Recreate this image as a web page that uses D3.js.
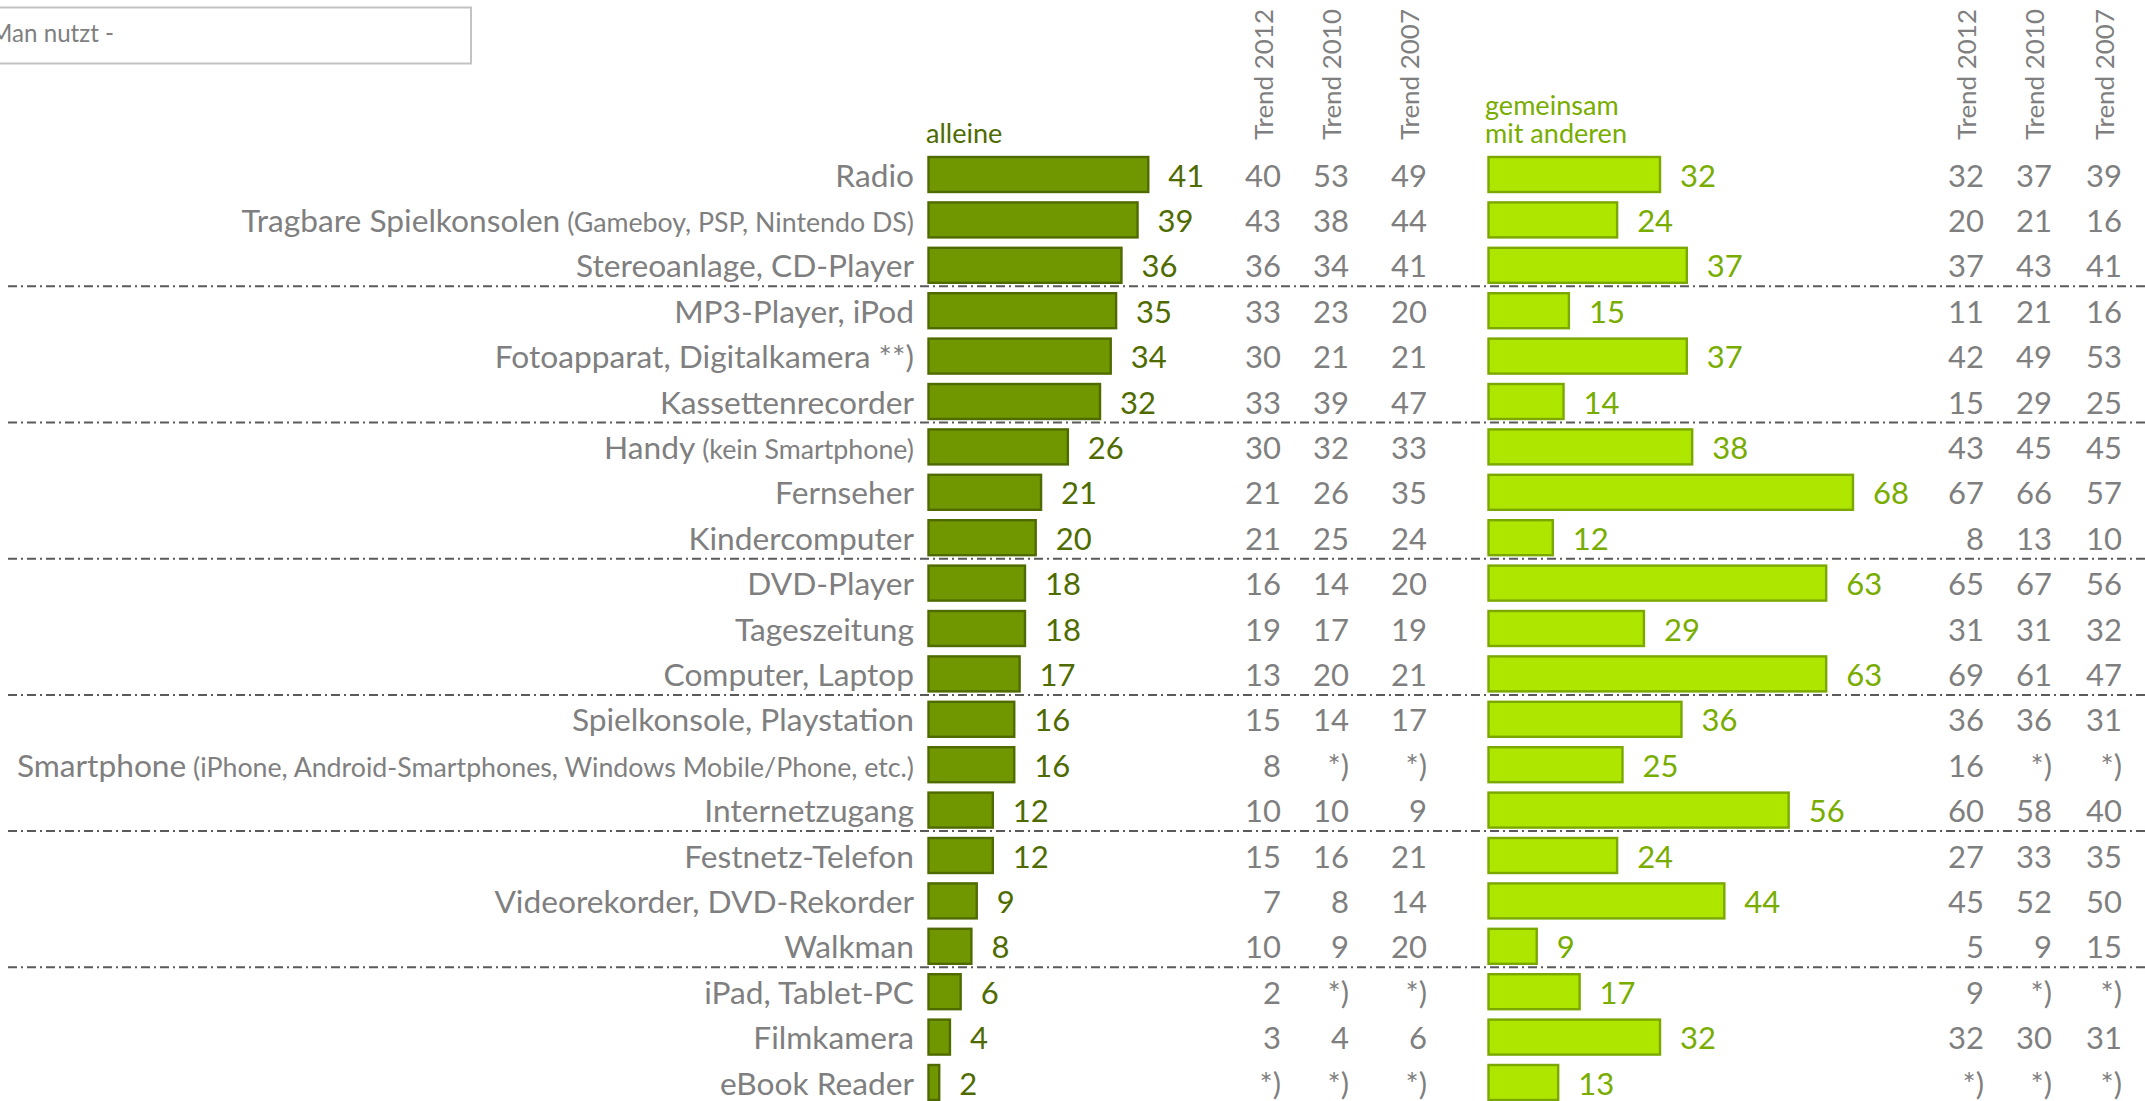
<!DOCTYPE html>
<html>
<head>
<meta charset="utf-8">
<script src="https://cdn.jsdelivr.net/npm/d3@7"></script>
<style>
  html, body { margin: 0; padding: 0; background: #fff; overflow: hidden; }
  svg { display: block; }
</style>
</head>
<body>
<div id="chart"></div>
<script>
// Data
const items = [
  'Radio', 'Tragbare Spielkonsolen', 'Stereoanlage, CD-Player', 'MP3-Player, iPod',
  'Fotoapparat, Digitalkamera **)', 'Kassettenrecorder', 'Handy', 'Fernseher',
  'Kindercomputer', 'DVD-Player', 'Tageszeitung', 'Computer, Laptop',
  'Spielkonsole, Playstation', 'Smartphone', 'Internetzugang', 'Festnetz-Telefon',
  'Videorekorder, DVD-Rekorder', 'Walkman', 'iPad, Tablet-PC', 'Filmkamera', 'eBook Reader'
];
const itemNotes = [
  '', '(Gameboy, PSP, Nintendo DS)', '', '', '', '', '(kein Smartphone)', '', '', '', '', '',
  '', '(iPhone, Android-Smartphones, Windows Mobile/Phone, etc.)', '', '', '', '', '', '', ''
];
const alone = [41, 39, 36, 35, 34, 32, 26, 21, 20, 18, 18, 17, 16, 16, 12, 12, 9, 8, 6, 4, 2];
const together = [32, 24, 37, 15, 37, 14, 38, 68, 12, 63, 29, 63, 36, 25, 56, 24, 44, 9, 17, 32, 13];

// trend columns (null = *) not asked)
const aloneTrend2012 = [40, 43, 36, 33, 30, 33, 30, 21, 21, 16, 19, 13, 15, 8, 10, 15, 7, 10, 2, 3, null];
const aloneTrend2010 = [53, 38, 34, 23, 21, 39, 32, 26, 25, 14, 17, 20, 14, null, 10, 16, 8, 9, null, 4, null];
const aloneTrend2007 = [49, 44, 41, 20, 21, 47, 33, 35, 24, 20, 19, 21, 17, null, 9, 21, 14, 20, null, 6, null];
const togetherTrend2012 = [32, 20, 37, 11, 42, 15, 43, 67, 8, 65, 31, 69, 36, 16, 60, 27, 45, 5, 9, 32, null];
const togetherTrend2010 = [37, 21, 43, 21, 49, 29, 45, 66, 13, 67, 31, 61, 36, null, 58, 33, 52, 9, null, 30, null];
const togetherTrend2007 = [39, 16, 41, 16, 53, 25, 45, 57, 10, 56, 32, 47, 31, null, 40, 35, 50, 15, null, 31, null];

const trendYears = ['Trend 2012', 'Trend 2010', 'Trend 2007'];
const groupBreaks = [2, 5, 8, 11, 14, 17];

// Layout
const width = 2145, height = 1101;
const FONT = 'Lato, "Open Sans", sans-serif';
const GREY = '#7f7f7f';
const left = { x0: 928.5, fill: '#709600', stroke: '#4f6b00', text: '#4f6b00' };
const right = { x0: 1488.5, fill: '#aee600', stroke: '#7aa800', text: '#78ad00' };
const labelRight = 914;
const leftTrendX = [1281, 1349, 1427];
const rightTrendX = [1984, 2052, 2122];

const svg = d3.select('#chart').append('svg')
  .attr('width', width)
  .attr('height', height)
  .attr('font-family', FONT);

// fit substitute font to the widths of the original text
const probe = svg.append('text').attr('font-size', 100);
function fitSize(sample, w) {
  probe.text(sample);
  return 100 * w / probe.node().getComputedTextLength();
}
const labelSize = fitSize('Tragbare Spielkonsolen', 319);
const noteSize = fitSize('(iPhone, Android-Smartphones, Windows Mobile/Phone, etc.)', 721);
const numSize = fitSize('00', 36);
const headSize = fitSize('mit anderen', 142);
const trendSize = fitSize('Trend 2012', 131);
const boxSize = fitSize('Man nutzt -', 124);
probe.remove();

const rows = d3.range(items.length);
const y = d3.scaleBand()
  .domain(rows)
  .range([151.8, 151.8 + 45.4 * items.length])
  .paddingInner(0.229)
  .paddingOuter(0.1145);
const x = d3.scaleLinear().domain([0, 100]).range([0, 536]);
const cy = i => y(i) + y.bandwidth() / 2;

// "Man nutzt -" box (cut at the left edge, as in the source)
svg.append('rect')
  .attr('x', -5).attr('y', 7.5)
  .attr('width', 476).attr('height', 56)
  .attr('fill', 'none')
  .attr('stroke', '#c3c3c3')
  .attr('stroke-width', 2);
svg.append('text')
  .attr('x', -10).attr('y', 42)
  .attr('font-size', boxSize)
  .attr('fill', GREY)
  .text('Man nutzt -');

// group separators
svg.append('g')
  .selectAll('line')
  .data(groupBreaks)
  .join('line')
  .attr('x1', 8).attr('x2', width)
  .attr('y1', d => cy(d) + 21).attr('y2', d => cy(d) + 21)
  .attr('stroke', '#5a5a5a')
  .attr('stroke-width', 2)
  .attr('stroke-dasharray', '9,4,2,4');

// column headers
svg.append('text')
  .attr('x', 926).attr('y', 143)
  .attr('font-size', headSize)
  .attr('fill', left.text)
  .text('alleine');
svg.append('text')
  .attr('font-size', headSize)
  .attr('fill', right.text)
  .selectAll('tspan')
  .data(['gemeinsam', 'mit anderen'])
  .join('tspan')
  .attr('x', 1485)
  .attr('y', (d, i) => 115 + i * 28)
  .text(d => d);

for (const xs of [leftTrendX, rightTrendX]) {
  svg.append('g')
    .selectAll('text')
    .data(trendYears)
    .join('text')
    .attr('transform', (d, i) => `translate(${xs[i] - 8},140) rotate(-90)`)
    .attr('font-size', trendSize)
    .attr('fill', GREY)
    .text(d => d);
}

// row labels
const labels = svg.append('g')
  .selectAll('text')
  .data(rows)
  .join('text')
  .attr('x', labelRight)
  .attr('y', i => cy(i) + 12)
  .attr('text-anchor', 'end')
  .attr('fill', GREY)
  .attr('font-size', labelSize);
labels.append('tspan').text(i => items[i]);
labels.filter(i => itemNotes[i]).append('tspan')
  .attr('font-size', noteSize)
  .text(i => ' ' + itemNotes[i]);

// bars + value labels
function drawBars(values, side) {
  const g = svg.append('g');
  g.selectAll('rect')
    .data(values)
    .join('rect')
    .attr('x', side.x0)
    .attr('y', (d, i) => y(i))
    .attr('width', d => x(d))
    .attr('height', y.bandwidth())
    .attr('fill', side.fill)
    .attr('stroke', side.stroke)
    .attr('stroke-width', 2.4);
  g.selectAll('text')
    .data(values)
    .join('text')
    .attr('x', d => side.x0 + x(d) + 20)
    .attr('y', (d, i) => cy(i) + 12)
    .attr('font-size', numSize)
    .attr('fill', side.text)
    .text(d => d);
}
drawBars(alone, left);
drawBars(together, right);

// trend numbers
function drawTrend(values, xPos) {
  svg.append('g')
    .selectAll('text')
    .data(values)
    .join('text')
    .attr('x', xPos)
    .attr('y', (d, i) => cy(i) + 12)
    .attr('text-anchor', 'end')
    .attr('font-size', numSize)
    .attr('fill', GREY)
    .text(d => d == null ? '*)' : d);
}
drawTrend(aloneTrend2012, leftTrendX[0]);
drawTrend(aloneTrend2010, leftTrendX[1]);
drawTrend(aloneTrend2007, leftTrendX[2]);
drawTrend(togetherTrend2012, rightTrendX[0]);
drawTrend(togetherTrend2010, rightTrendX[1]);
drawTrend(togetherTrend2007, rightTrendX[2]);
</script>
</body>
</html>
